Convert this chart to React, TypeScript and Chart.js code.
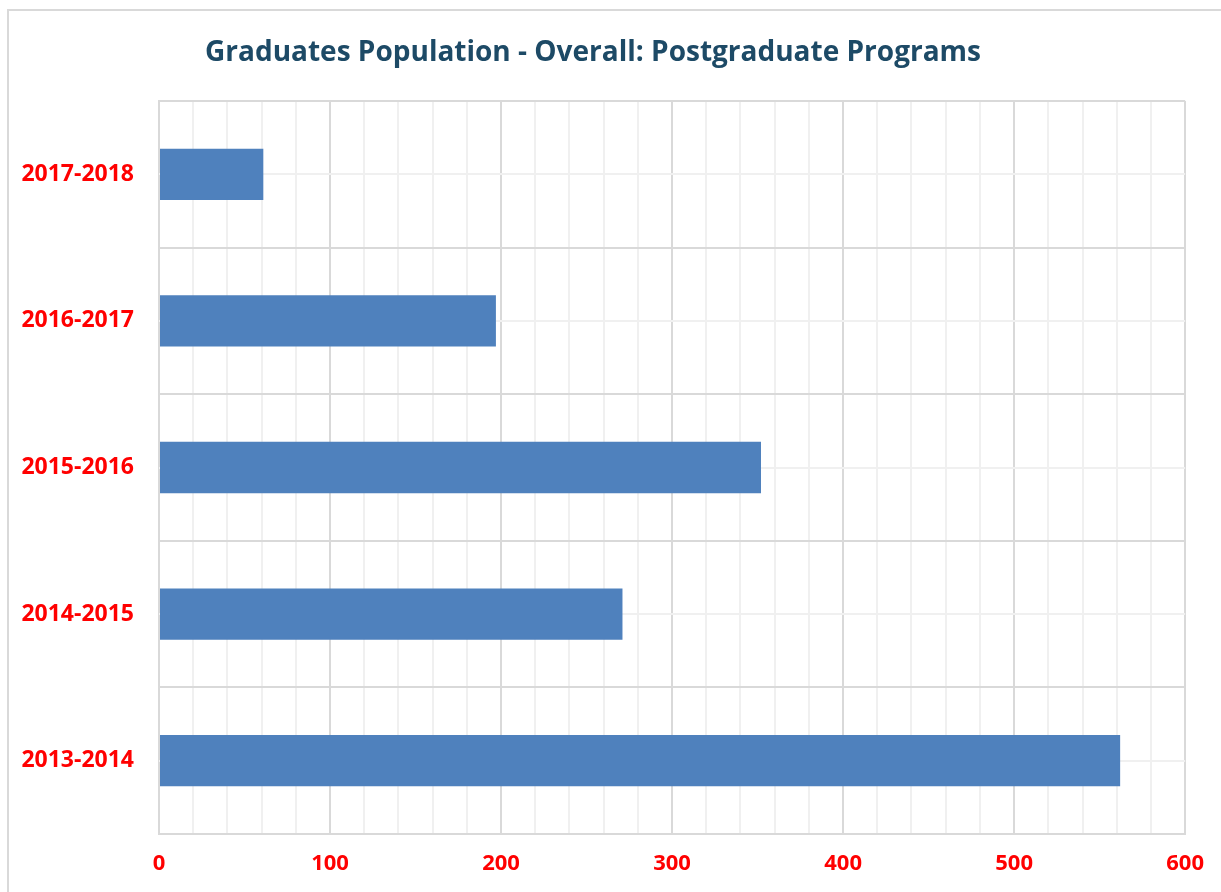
import React, { useEffect, useRef } from "react";
import { Chart, registerables } from "chart.js";

Chart.register(...registerables);

const categories = ["2017-2018", "2016-2017", "2015-2016", "2014-2015", "2013-2014"];
const graduates = [61, 197, 352, 271, 562];
const xTickLabels = [0, 100, 200, 300, 400, 500, 600];
const titleText = "Graduates Population - Overall: Postgraduate Programs";

const minorCategoryLines = {
  id: "minorCategoryLines",
  beforeDatasetsDraw(chart: any) {
    const { ctx, chartArea, scales } = chart;
    const y = scales.y;
    ctx.save();
    ctx.strokeStyle = "#f0f0f0";
    ctx.lineWidth = 2;
    for (let i = 0; i < categories.length; i++) {
      const py = Math.round(y.getPixelForValue(i));
      ctx.beginPath();
      ctx.moveTo(chartArea.left, py);
      ctx.lineTo(chartArea.right, py);
      ctx.stroke();
    }
    ctx.restore();
  },
};

export default function App() {
  const ref = useRef<HTMLCanvasElement | null>(null);
  useEffect(() => {
    if (!ref.current) return;
    const chart = new Chart(ref.current, {
      type: "bar",
      data: {
        labels: categories,
        datasets: [
          {
            data: graduates,
            backgroundColor: "#4f81bd",
            borderWidth: 0,
            barPercentage: 0.35,
            categoryPercentage: 1,
          },
        ],
      },
      plugins: [minorCategoryLines],
      options: {
        indexAxis: "y",
        animation: false,
        responsive: true,
        maintainAspectRatio: false,
        layout: { padding: { left: 0, right: 35, top: 0, bottom: 0 } },
        plugins: {
          legend: { display: false },
          tooltip: { enabled: false },
          title: {
            display: true,
            text: titleText,
            color: "#1d4a66",
            font: { family: "'Open Sans', sans-serif", size: 28, weight: "bold" },
            padding: { top: 36, bottom: 31.4 },
          },
        },
        scales: {
          x: {
            min: 0,
            max: 600,
            afterFit: (s: any) => {
              s.height = 58;
            },
            afterBuildTicks: (s: any) => {
              const t: any[] = [];
              for (let v = 0; v <= 600; v += 20) t.push({ value: v });
              s.ticks = t;
            },
            ticks: {
              autoSkip: false,
              maxRotation: 0,
              padding: 17,
              color: "#ff0000",
              font: { family: "'Open Sans', sans-serif", size: 22, weight: "bold" },
              callback: (v: any) => (xTickLabels.includes(Number(v)) ? String(v) : ""),
            },
            grid: {
              drawTicks: false,
              lineWidth: 2,
              color: (c: any) =>
                c.tick && xTickLabels.includes(c.tick.value) ? "#d9d9d9" : "#f0f0f0",
            },
            border: { color: "#d9d9d9", width: 2 },
          },
          y: {
            afterFit: (s: any) => {
              s.width = 159;
            },
            ticks: {
              padding: 25,
              color: "#ff0000",
              font: { family: "'Open Sans', sans-serif", size: 23, weight: "bold" },
            },
            grid: {
              drawTicks: false,
              lineWidth: 2,
              color: "#d9d9d9",
            },
            border: { color: "#d9d9d9", width: 2 },
          },
        },
      },
    });
    return () => chart.destroy();
  }, []);

  return (
    <div
      style={{
        position: "fixed",
        left: 0,
        top: 0,
        width: 1221,
        height: 892,
        overflow: "hidden",
        background: "#ffffff",
      }}
    >
      <div
        style={{
          position: "absolute",
          left: 7,
          top: 9,
          width: 1300,
          height: 1000,
          border: "2px solid #d9d9d9",
        }}
      />
      <div style={{ position: "absolute", left: 0, top: 0, width: 1221, height: 892 }}>
        <canvas ref={ref} />
      </div>
    </div>
  );
}
